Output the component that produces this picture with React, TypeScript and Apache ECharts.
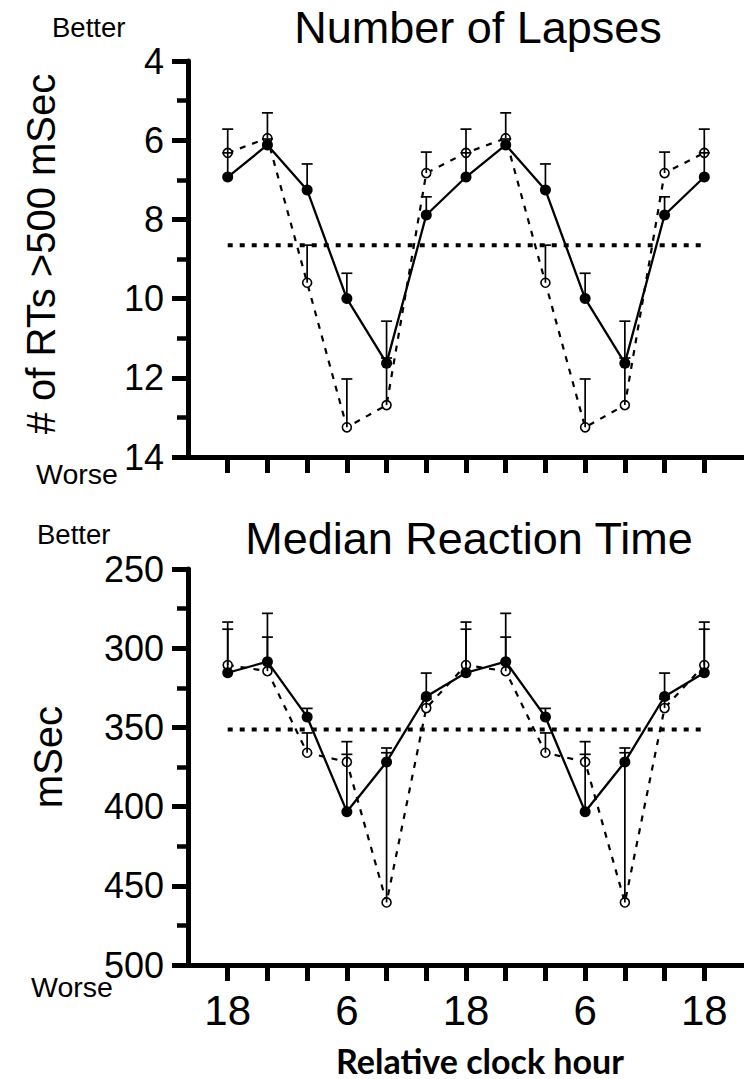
import React, { useEffect, useRef } from "react";
import * as echarts from "echarts";

// x positions 0..12 correspond to these relative clock hours
const hours = ["18", "22", "2", "6", "10", "14", "18", "22", "2", "6", "10", "14", "18"];
const xPos = [0, 1, 2, 3, 4, 5, 6, 7, 8, 9, 10, 11, 12];
const tickPositions = [0, 1, 2, 3, 4, 5, 6, 7, 8, 9, 10, 11, 12];
const labelPositions = [0, 3, 6, 9, 12];

// Panel 1: Number of Lapses
const lapsesFilled = [6.93, 6.12, 7.26, 10.0, 11.63, 7.89, 6.93, 6.12, 7.26, 10.0, 11.63, 7.89, 6.93];
const lapsesFilledErrTop = [6.32, 5.97, 6.6, 9.36, 10.57, 7.43, 6.32, 5.97, 6.6, 9.36, 10.57, 7.43, 6.32];
const lapsesOpen = [6.32, 5.95, 9.6, 13.25, 12.69, 6.83, 6.32, 5.95, 9.6, 13.25, 12.69, 6.83, 6.32];
const lapsesOpenErrTop = [5.72, 5.31, 8.65, 12.03, 11.5, 6.3, 5.72, 5.31, 8.65, 12.03, 11.5, 6.3, 5.72];
const lapsesRef = 8.65;

// Panel 2: Median Reaction Time
const rtFilled = [315.5, 308.5, 343.4, 403.2, 371.8, 330.5, 315.5, 308.5, 343.4, 403.2, 371.8, 330.5, 315.5];
const rtFilledErrTop = [288, 278, 338, 359, 366, 315.7, 288, 278, 338, 359, 366, 315.7, 288];
const rtOpen = [310.6, 314.5, 366, 371.8, 460.5, 337.8, 310.6, 314.5, 366, 371.8, 460.5, 337.8, 310.6];
const rtOpenErrTop = [283.5, 293, 353.5, 367, 363, 332, 283.5, 293, 353.5, 367, 363, 332, 283.5];
const rtRef = 351.3;

const FONT = "'Liberation Sans', Arial, sans-serif";

function pairs(xs: number[], ys: number[]) {
  return xs.map((x, i) => [x, ys[i]]);
}
function errData(xs: number[], ys: number[], tops: number[]) {
  return xs.map((x, i) => [x, ys[i], tops[i]]);
}

const errRender = (params: any, api: any) => {
  const x = api.value(0);
  const p0 = api.coord([x, api.value(1)]);
  const p1 = api.coord([x, api.value(2)]);
  return {
    type: "group",
    children: [
      {
        type: "line",
        shape: { x1: p0[0], y1: p0[1], x2: p1[0], y2: p1[1] },
        style: { stroke: "#000", lineWidth: 1.7 },
      },
      {
        type: "line",
        shape: { x1: p1[0] - 5.5, y1: p1[1], x2: p1[0] + 5.5, y2: p1[1] },
        style: { stroke: "#000", lineWidth: 1.7 },
      },
    ],
  };
};

function xAxisFor(gridIndex: number, showLabels: boolean) {
  return {
    type: "value",
    gridIndex,
    min: -1,
    max: 13,
    interval: 1,
    axisLine: { show: true, onZero: false, lineStyle: { color: "#000", width: 5 } },
    axisTick: {
      show: true,
      customValues: tickPositions,
      length: 16,
      lineStyle: { color: "#000", width: 5 },
    },
    axisLabel: {
      show: showLabels,
      customValues: labelPositions,
      formatter: (v: number) => hours[Math.round(v)],
      fontFamily: FONT,
      fontSize: 42,
      color: "#000",
      margin: 24,
    },
    splitLine: { show: false },
  };
}

function yAxisFor(gridIndex: number, min: number, max: number, interval: number) {
  return {
    type: "value",
    gridIndex,
    min,
    max,
    interval,
    inverse: true,
    axisLine: { show: true, onZero: false, lineStyle: { color: "#000", width: 5 } },
    axisTick: { show: true, length: 16, lineStyle: { color: "#000", width: 5 } },
    minorTick: { show: true, splitNumber: 2, length: 11, lineStyle: { color: "#000", width: 4.5 } },
    axisLabel: { fontFamily: FONT, fontSize: 36, color: "#000", margin: 24 },
    splitLine: { show: false },
    minorSplitLine: { show: false },
  };
}

function panelSeries(
  idx: number,
  filled: number[],
  filledTop: number[],
  open: number[],
  openTop: number[],
  ref: number
) {
  return [
    {
      type: "line",
      xAxisIndex: idx,
      yAxisIndex: idx,
      data: [
        [0, ref],
        [12, ref],
      ],
      symbol: "none",
      lineStyle: { color: "#000", width: 4, type: [5, 7] },
      z: 1,
    },
    {
      type: "line",
      xAxisIndex: idx,
      yAxisIndex: idx,
      data: pairs(xPos, open),
      symbol: "circle",
      symbolSize: 9,
      itemStyle: { color: "#fff", borderColor: "#000", borderWidth: 1.6 },
      lineStyle: { color: "#000", width: 2.2, type: [6, 7] },
      z: 2,
    },
    {
      type: "line",
      xAxisIndex: idx,
      yAxisIndex: idx,
      data: pairs(xPos, filled),
      symbol: "circle",
      symbolSize: 11,
      itemStyle: { color: "#000", borderColor: "#000", borderWidth: 0 },
      lineStyle: { color: "#000", width: 2.3 },
      z: 3,
    },
    {
      type: "custom",
      xAxisIndex: idx,
      yAxisIndex: idx,
      renderItem: errRender,
      encode: { x: 0, y: [1, 2] },
      data: errData(xPos, open, openTop),
      z: 4,
    },
    {
      type: "custom",
      xAxisIndex: idx,
      yAxisIndex: idx,
      renderItem: errRender,
      encode: { x: 0, y: [1, 2] },
      data: errData(xPos, filled, filledTop),
      z: 4,
    },
  ];
}

function txt(text: string, x: number, y: number, size: number, extra: any = {}) {
  return {
    type: "text",
    x,
    y,
    rotation: extra.rotation || 0,
    style: {
      text,
      font: `${extra.weight || "normal"} ${size}px ${extra.family || FONT}`,
      fill: "#000",
      textAlign: extra.align || "left",
      textVerticalAlign: "middle",
    },
  };
}

export default function App() {
  const ref = useRef<HTMLDivElement>(null);
  useEffect(() => {
    if (!ref.current) return;
    const chart = echarts.init(ref.current, null, { renderer: "svg" });
    chart.setOption({
      animation: false,
      backgroundColor: "#fff",
      grid: [
        { left: 188, top: 61, height: 396, right: -5 },
        { left: 188, top: 569, height: 396, right: -5 },
      ],
      xAxis: [xAxisFor(0, false), xAxisFor(1, true)],
      yAxis: [yAxisFor(0, 4, 14, 2), yAxisFor(1, 250, 500, 50)],
      series: [
        ...panelSeries(0, lapsesFilled, lapsesFilledErrTop, lapsesOpen, lapsesOpenErrTop, lapsesRef),
        ...panelSeries(1, rtFilled, rtFilledErrTop, rtOpen, rtOpenErrTop, rtRef),
      ],
      graphic: [
        txt("Number of Lapses", 478, 27, 45, { align: "center" }),
        txt("Median Reaction Time", 469, 538, 45, { align: "center" }),
        txt("Better", 52, 27, 27.5),
        txt("Worse", 36, 474, 28.5),
        txt("Better", 37, 534, 27.5),
        txt("Worse", 31, 987, 28.5),
        txt("# of RTs >500 mSec", 41, 254, 40, { align: "center", rotation: Math.PI / 2 }),
        txt("mSec", 48, 757, 40, { align: "center", rotation: Math.PI / 2 }),
        txt("Relative clock hour", 480, 1060, 34, { align: "center", weight: "bold", family: "Lato, 'Open Sans', sans-serif" }),
      ],
    });
    return () => chart.dispose();
  }, []);
  return (
    <div
      ref={ref}
      style={{ position: "absolute", left: 0, top: 0, width: 744, height: 1079 }}
    />
  );
}
